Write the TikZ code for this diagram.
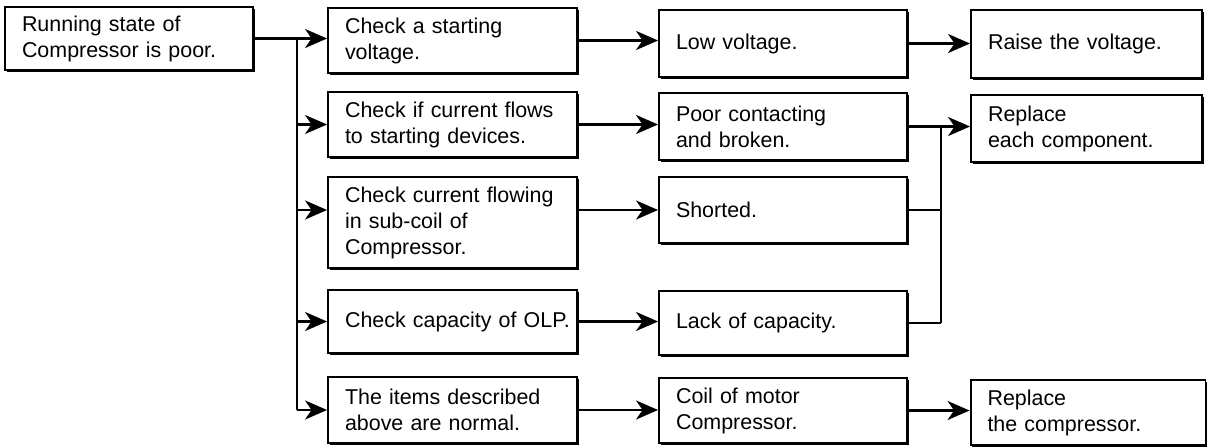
\documentclass[tikz,border=0pt]{standalone}
\usepackage{fontspec}
\setmainfont{Liberation Sans}
\usetikzlibrary{arrows.meta,shadows}

\tikzset{
  box/.style={draw, fill=white, line width=1.1pt, align=left,
    inner xsep=0.34cm, inner ysep=0pt,
    font=\fontsize{12.2pt}{14.8pt}\selectfont,
    drop shadow={shadow xshift=0.9pt, shadow yshift=-0.9pt, fill=black, opacity=1}},
  link/.style={line width=1.3pt}
}

\begin{document}
\begin{tikzpicture}[x=0.02cm, y=-0.02cm, >={Stealth[length=4.4mm,width=3.8mm,inset=1.3mm]}]
  \useasboundingbox (0,0) rectangle (1207,447);

  % start
  \node[box, text width=4.28cm, minimum height=1.26cm] (fault) at (129,38.5) {Running state of\\Compressor is poor.};

  % checks
  \node[box, text width=4.30cm, minimum height=1.30cm] (check1) at (452.5,40.5) {Check a starting\\voltage.};
  \node[box, text width=4.30cm, minimum height=1.30cm] (check2) at (452.5,124.5) {Check if current flows\\to starting devices.};
  \node[box, text width=4.30cm, minimum height=1.82cm] (check3) at (452.5,222.5) {Check current flowing\\in sub-coil of\\Compressor.};
  \node[box, text width=4.30cm, minimum height=1.26cm] (check4) at (452.5,321.5) {\mbox{Check capacity of OLP.}};
  \node[box, text width=4.30cm, minimum height=1.32cm] (check5) at (452.5,410) {The items described\\above are normal.};

  % causes
  \node[box, text width=4.28cm, minimum height=1.34cm] (cause1) at (783,43.5) {Low voltage.};
  \node[box, text width=4.28cm, minimum height=1.34cm] (cause2) at (783,126.5) {Poor contacting\\and broken.};
  \node[box, text width=4.28cm, minimum height=1.32cm] (cause3) at (783,210) {Shorted.};
  \node[box, text width=4.28cm, minimum height=1.28cm] (cause4) at (783,323) {Lack of capacity.};
  \node[box, text width=4.28cm, minimum height=1.30cm] (cause5) at (783,410.5) {Coil of motor\\Compressor.};

  % remedies
  \node[box, text width=3.94cm, minimum height=1.36cm] (fix1) at (1086.5,44) {Raise the voltage.};
  \node[box, text width=3.94cm, minimum height=1.34cm] (fix2) at (1086.5,128.5) {Replace\\each component.};
  \node[box, text width=4.02cm, minimum height=1.30cm] (fix3) at (1088,412.5) {Replace\\the compressor.};

  \coordinate (trunk) at (297,38.5);
  \coordinate (bus) at (941,126.5);

  % start to checks
  \draw[link,->] (fault.east) -- (fault.east -| check1.west);
  \draw[link] (trunk) -- (trunk |- check5.west);
  \draw[link,->] (trunk |- check2.west) -- (check2.west);
  \draw[link,->] (trunk |- cause3.west) -- (check3.west |- cause3.west);
  \draw[link,->] (trunk |- check4.west) -- (check4.west);
  \draw[link,->] (trunk |- check5.west) -- (check5.west);

  % checks to causes
  \draw[link,->] (check1.east) -- (check1.east -| cause1.west);
  \draw[link,->] (check2.east) -- (check2.east -| cause2.west);
  \draw[link,->] (check3.east |- cause3.west) -- (cause3.west);
  \draw[link,->] (check4.east) -- (check4.east -| cause4.west);
  \draw[link,->] (check5.east) -- (check5.east -| cause5.west);

  % causes to remedies
  \draw[link,->] (cause1.east) -- (cause1.east -| fix1.west);
  \draw[link,->] (cause2.east) -- (cause2.east -| fix2.west);
  \draw[link] (cause3.east) -- (cause3.east -| bus);
  \draw[link] (cause4.east) -- (cause4.east -| bus);
  \draw[link] (bus) -- (bus |- cause4.east);
  \draw[link,->] (cause5.east) -- (cause5.east -| fix3.west);
\end{tikzpicture}
\end{document}
